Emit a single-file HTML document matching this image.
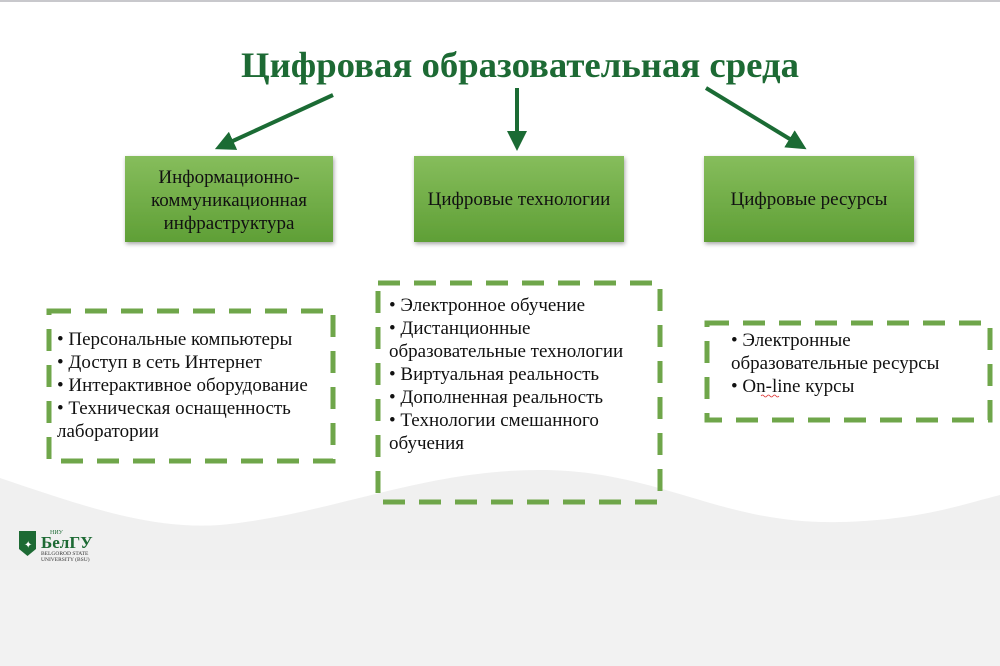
<!DOCTYPE html>
<html><head><meta charset="utf-8"><style>
html,body{margin:0;padding:0;background:#fff;}
svg{display:block;}
text{font-family:"Liberation Serif",serif;}
</style></head><body>
<svg width="1000" height="666" viewBox="0 0 1000 666" xmlns="http://www.w3.org/2000/svg">
<defs>
<linearGradient id="g" x1="0" y1="0" x2="0" y2="1">
<stop offset="0" stop-color="#86bd5c"/><stop offset="1" stop-color="#5f9f36"/>
</linearGradient>
<filter id="sh" x="-10%" y="-10%" width="130%" height="140%"><feDropShadow dx="1" dy="2" stdDeviation="2" flood-color="#000" flood-opacity="0.35"/></filter>
<marker id="ah" markerWidth="5" markerHeight="5" refX="2.5" refY="2.5" orient="auto" markerUnits="strokeWidth"><path d="M0,0 L5,2.5 L0,5 Z" fill="#1b6b34"/></marker>
</defs>
<rect width="1000" height="666" fill="#fff"/>
<rect width="1000" height="2" fill="#c8c8cc"/>
<path d="M0,478 C80,505 150,530 220,525 C330,515 420,470 540,470 C660,470 720,525 840,522 C920,520 960,505 1000,495 L1000,666 L0,666 Z" fill="#f0f0f0"/>
<rect y="570" width="1000" height="96" fill="#f2f2f2"/>
<text x="520" y="77" text-anchor="middle" font-size="36" font-weight="bold" fill="#1d6a34" textLength="558" lengthAdjust="spacingAndGlyphs">Цифровая образовательная среда</text>
<g stroke="#1b6b34" stroke-width="4" fill="none">
<line x1="333" y1="95" x2="224" y2="145" marker-end="url(#ah)"/>
<line x1="517" y1="88" x2="517" y2="141" marker-end="url(#ah)"/>
<line x1="706" y1="88" x2="798" y2="144" marker-end="url(#ah)"/>
</g>
<g filter="url(#sh)">
<rect x="125" y="156" width="208" height="86" fill="url(#g)"/>
<rect x="414" y="156" width="210" height="86" fill="url(#g)"/>
<rect x="704" y="156" width="210" height="86" fill="url(#g)"/>
</g>
<g font-size="19" fill="#111" text-anchor="middle">
<text x="229" y="183">Информационно-</text>
<text x="229" y="206">коммуникационная</text>
<text x="229" y="229">инфраструктура</text>
<text x="519" y="205">Цифровые технологии</text>
<text x="809" y="205">Цифровые ресурсы</text>
</g>
<g fill="none" stroke="#6fa64a" stroke-width="5" stroke-dasharray="22,14">
<rect x="49" y="311" width="284" height="150"/>
<rect x="378" y="283" width="282" height="219"/>
<rect x="707" y="323" width="283" height="97"/>
</g>
<g font-size="19" fill="#111">
<text x="57" y="345">• Персональные компьютеры</text>
<text x="57" y="368">• Доступ в сеть Интернет</text>
<text x="57" y="391">• Интерактивное оборудование</text>
<text x="57" y="414">• Техническая оснащенность</text>
<text x="57" y="437">лаборатории</text>
<text x="389" y="311">• Электронное обучение</text>
<text x="389" y="334">• Дистанционные</text>
<text x="389" y="357">образовательные технологии</text>
<text x="389" y="380">• Виртуальная реальность</text>
<text x="389" y="403">• Дополненная реальность</text>
<text x="389" y="426">• Технологии смешанного</text>
<text x="389" y="449">обучения</text>
<text x="731" y="346">• Электронные</text>
<text x="731" y="369">образовательные ресурсы</text>
<text x="731" y="392">• On-line курсы</text>
</g>
<path d="M761,396 q1.5,-2 3,0 t3,0 t3,0 t3,0 t3,0 t3,0" stroke="#d33" stroke-width="0.8" fill="none"/>
<path d="M19,531 h17 v18 l-8.5,7 l-8.5,-7 Z" fill="#1d6a34"/>
<text x="24" y="548" font-size="10" fill="#fff">✦</text>
<text x="50" y="534" font-size="6" fill="#1d6a34">НИУ</text>
<text x="41" y="548" font-size="17" font-weight="bold" fill="#1d6a34">БелГУ</text>
<text x="41" y="555" font-size="5.5" fill="#333">BELGOROD STATE</text>
<text x="41" y="561" font-size="5.5" fill="#333">UNIVERSITY (BSU)</text>
</svg>
</body></html>
